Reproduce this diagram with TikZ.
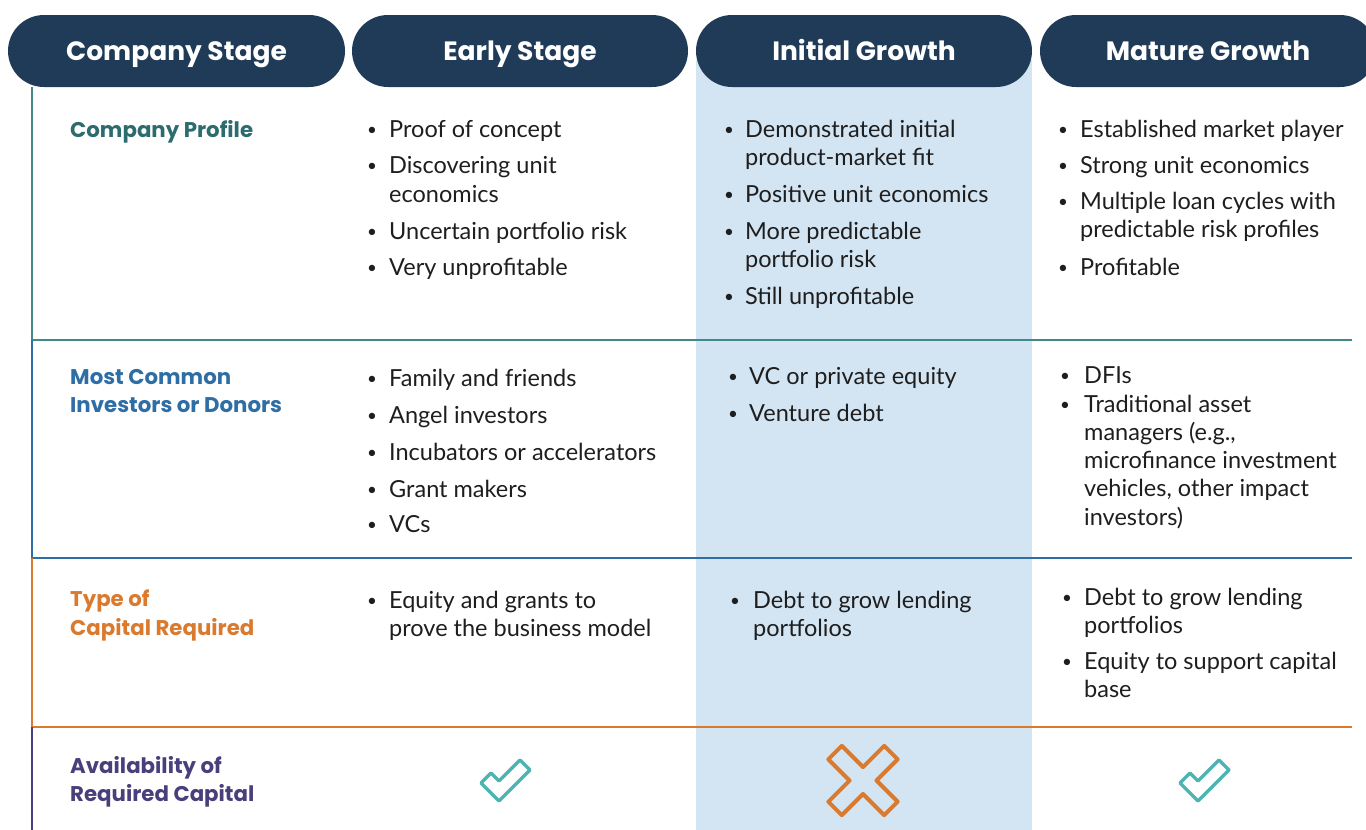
\documentclass[tikz,border=0pt]{standalone}
\usepackage{fontspec}
\setmainfont{Lato}
\newfontfamily\headfont{Poppins}
\definecolor{hdr}{HTML}{1F3B58}
\definecolor{colbg}{HTML}{D3E4F2}
\definecolor{tealL}{HTML}{418A87}
\definecolor{tealT}{HTML}{2C6B6E}
\definecolor{blueL}{HTML}{2F6EA5}
\definecolor{orangeL}{HTML}{DA7A2E}
\definecolor{purpL}{HTML}{4A3F7B}
\definecolor{chk}{HTML}{4DB4B1}
\definecolor{body}{HTML}{1E1E1E}
\tikzset{
  pill/.style={fill=hdr, rounded corners=36pt, minimum width=336pt, minimum height=72pt,
    inner sep=0pt, text=white, font=\headfont\fontsize{26.5}{27}\selectfont\bfseries,
    text height=19pt, text depth=0pt},
  txt/.style={anchor=base west, inner sep=0pt, text=body, font=\fontsize{23.5}{28}\selectfont},
  bul/.style={anchor=base, inner sep=0pt, text=body, font=\fontsize{17}{17}\selectfont},
  lab/.style={anchor=base west, inner sep=0pt, font=\headfont\fontsize{21.3}{28}\selectfont\bfseries},
  sep/.style={line width=2.5pt},
  icon/.style={line width=3.5pt, line join=round},
}
\newcommand\tl[4]{\node[txt] (#1) at (#2,#3) {#4};}
\newcommand\bl[3]{\node[bul] (#1) at (#2,#3) {\raisebox{1.5pt}{•}};}
\begin{document}
\begin{tikzpicture}[x=1pt,y=-1pt]
\useasboundingbox (0,0) rectangle (1366,830);
\begin{scope}
\clip (0,0) rectangle (1366,830);
% highlighted column
\fill[colbg] (696,60) rectangle (1032,830);
% header pills
\node[pill, minimum width=337pt] (h1) at (176.5,51) {Company Stage};
\node[pill] (h2) at (520,51) {Early Stage};
\node[pill] (h3) at (864,51) {Initial Growth};
\node[pill] (h4) at (1208,51) {Mature Growth};
\end{scope}
% left rule and section separators
\coordinate (v0) at (32,87);
\coordinate (v1) at (32,340);
\coordinate (v2) at (32,558);
\coordinate (v3) at (32,727);
\coordinate (v4) at (32,830);
\coordinate (e1) at (1352,340);
\coordinate (e2) at (1352,558);
\coordinate (e3) at (1352,727);
\draw[sep, tealL] (v0) -- (v1) -- (e1);
\draw[sep, blueL] (v1) -- (v2) -- (e2);
\draw[sep, orangeL] (v2) -- (v3) -- (e3);
\draw[sep, purpL] (v3) -- (v4);

% row labels
\node[lab, text=tealT] (l1) at (70,137) {Company Profile};
\node[lab, text=blueL] (l2a) at (70,384) {Most Common};
\node[lab, text=blueL] (l2b) at (70,412) {Investors or Donors};
\node[lab, text=orangeL] (l3a) at (70,606) {Type of};
\node[lab, text=orangeL] (l3b) at (70,635) {Capital Required};
\node[lab, text=purpL] (l4a) at (70,773) {Availability of};
\node[lab, text=purpL] (l4b) at (70,801) {Required Capital};

% Row 1, Early Stage
\bl{b11a}{372}{137}\tl{t11a}{389}{137}{Proof of concept}
\bl{b11b}{372}{173}\tl{t11b}{389}{173}{Discovering unit}
\tl{t11c}{389}{202}{economics}
\bl{b11d}{372}{239}\tl{t11d}{389}{239}{Uncertain portfolio risk}
\bl{b11e}{372}{275}\tl{t11e}{389}{275}{Very unprofitable}
% Row 1, Initial Growth
\bl{b12a}{729}{137}\tl{t12a}{745}{137}{Demonstrated initial}
\tl{t12b}{745}{165}{product-market fit}
\bl{b12c}{729}{202}\tl{t12c}{745}{202}{Positive unit economics}
\bl{b12d}{729}{239}\tl{t12d}{745}{239}{More predictable}
\tl{t12e}{745}{267}{portfolio risk}
\bl{b12f}{729}{304}\tl{t12f}{745}{304}{Still unprofitable}
% Row 1, Mature Growth
\bl{b13a}{1063}{137}\tl{t13a}{1080}{137}{Established market player}
\bl{b13b}{1063}{173}\tl{t13b}{1080}{173}{Strong unit economics}
\bl{b13c}{1063}{209}\tl{t13c}{1080}{209}{Multiple loan cycles with}
\tl{t13d}{1080}{237}{predictable risk profiles}
\bl{b13e}{1063}{275}\tl{t13e}{1080}{275}{Profitable}

% Row 2, Early Stage
\bl{b21a}{372}{386}\tl{t21a}{389}{386}{Family and friends}
\bl{b21b}{372}{423}\tl{t21b}{389}{423}{Angel investors}
\bl{b21c}{372}{460}\tl{t21c}{389}{460}{Incubators or accelerators}
\bl{b21d}{372}{497}\tl{t21d}{389}{497}{Grant makers}
\bl{b21e}{372}{532}\tl{t21e}{389}{532}{VCs}
% Row 2, Initial Growth
\bl{b22a}{733}{384}\tl{t22a}{749}{384}{VC or private equity}
\bl{b22b}{733}{421}\tl{t22b}{749}{421}{Venture debt}
% Row 2, Mature Growth
\bl{b23a}{1065}{383}\tl{t23a}{1084}{383}{DFIs}
\bl{b23b}{1065}{412}\tl{t23b}{1084}{412}{Traditional asset}
\tl{t23c}{1084}{440}{managers (e.g.,}
\tl{t23d}{1084}{468}{microfinance investment}
\tl{t23e}{1084}{496}{vehicles, other impact}
\tl{t23f}{1084}{525}{investors)}

% Row 3
\bl{b31a}{372}{608}\tl{t31a}{389}{608}{Equity and grants to}
\tl{t31b}{389}{636}{prove the business model}
\bl{b32a}{735}{608}\tl{t32a}{753}{608}{Debt to grow lending}
\tl{t32b}{753}{636}{portfolios}
\bl{b33a}{1067}{605}\tl{t33a}{1084}{605}{Debt to grow lending}
\tl{t33b}{1084}{633}{portfolios}
\bl{b33c}{1067}{669}\tl{t33c}{1084}{669}{Equity to support capital}
\tl{t33d}{1084}{697}{base}

% Row 4 icons
\draw[icon, chk] (481,783) -- ++(10,-10) -- (499,781) -- ++(21,-21) -- ++(10,10) -- (499,801) -- cycle;
\draw[icon, chk] (1180,783) -- ++(10,-10) -- (1198,781) -- ++(21,-21) -- ++(10,10) -- (1198,801) -- cycle;
\draw[line width=4pt, orangeL, line join=round, rotate around={45:(863,780.5)}]
  (853.5,771) -- (853.5,741) -- (872.5,741) -- (872.5,771) -- (902.5,771) -- (902.5,790)
  -- (872.5,790) -- (872.5,820) -- (853.5,820) -- (853.5,790) -- (823.5,790) -- (823.5,771) -- cycle;
\end{tikzpicture}
\end{document}
